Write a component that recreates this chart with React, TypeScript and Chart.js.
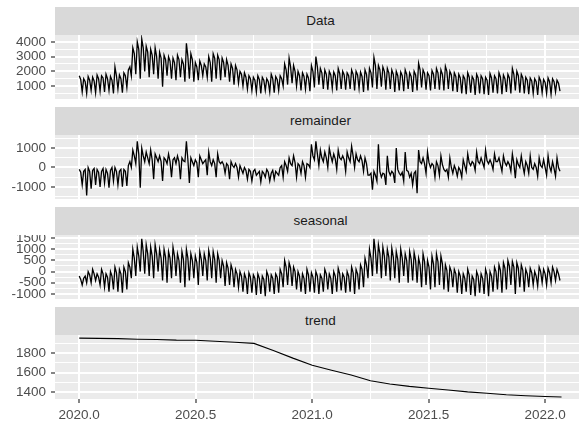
import React, { useEffect, useRef } from 'react';
import { Chart, registerables } from 'chart.js';

Chart.register(...registerables);

// ---- time axis of the decomposed series (three samples per week) ----
const START_YEAR = 2020.0;
const SAMPLE_STEP = 7 / 3 / 365.25;

// ---- series values, one row = five weeks ----
const dataValues = [
  1700, 1450, 600, 1500, 1300, 500, 1650, 1400, 700, 1600, 1350, 550, 1750, 1500, 650,
  1700, 1550, 600, 1800, 1500, 700, 1650, 1400, 500, 2300, 1700, 800, 1750, 1500, 550,
  1900, 1700, 900, 2100, 2300, 1700, 3600, 3200, 1800, 4000, 3500, 1500, 4200, 3600, 2000,
  3700, 3300, 1600, 3500, 3100, 1800, 3600, 3000, 1500, 3300, 2900, 950, 3100, 2800, 1700,
  3000, 2700, 1500, 2900, 2600, 1400, 3100, 2800, 1600, 2800, 2500, 1300, 3900, 3000, 1500,
  3200, 2800, 1300, 2600, 2300, 1400, 2700, 2400, 1700, 2500, 2300, 1600, 3000, 2600, 1300,
  3200, 2900, 1500, 3100, 2800, 1400, 2900, 2600, 1600, 2800, 2400, 1300, 2500, 2200, 1100,
  2400, 2100, 1200, 2000, 1800, 1000, 1900, 1600, 800, 1700, 1500, 700, 1600, 1400, 600,
  1700, 1450, 500, 1600, 1400, 700, 1500, 1300, 600, 1800, 1500, 550, 1650, 1450, 700,
  1700, 1500, 1000, 2500, 2100, 1100, 2900, 2300, 1200, 2400, 2000, 1000, 2000, 1700, 700,
  1900, 1650, 800, 1800, 1550, 650, 2400, 2000, 900, 3000, 2300, 1100, 2200, 1900, 800,
  2100, 1800, 750, 2000, 1750, 850, 1950, 1700, 700, 2200, 1850, 800, 2000, 1750, 750,
  1900, 1700, 800, 2100, 1800, 700, 2000, 1750, 850, 1950, 1650, 600, 2100, 1800, 700,
  2200, 1900, 900, 2950, 2400, 800, 2400, 2100, 950, 2300, 2000, 750, 2200, 1900, 800,
  2100, 1800, 600, 2000, 1700, 700, 1950, 1700, 650, 2100, 1800, 800, 1900, 1650, 600,
  2000, 1750, 700, 2550, 2100, 900, 2100, 1850, 750, 1900, 1700, 700, 2050, 1800, 800,
  2200, 1900, 750, 2100, 1800, 700, 2350, 2000, 800, 2000, 1750, 650, 1900, 1650, 600,
  1800, 1550, 500, 1700, 1500, 450, 1900, 1600, 550, 1650, 1450, 400, 1800, 1550, 500,
  1700, 1500, 450, 1600, 1400, 400, 1850, 1550, 550, 1700, 1500, 500, 1900, 1600, 450,
  1750, 1500, 600, 1800, 1550, 500, 2200, 1800, 700, 2000, 1700, 550, 1800, 1550, 500,
  1600, 1400, 450, 1550, 1350, 500, 1500, 1300, 400, 1600, 1350, 550,
  1450, 1250, 500, 1550, 1300, 450, 1500, 1300, 600, 1400, 1200, 650,
];

const remainderValues = [
  -100, -250, -900, -200, -100, -1450, 0, -200, -1100, -150, -50, -900, -100, -250, -1000,
  -200, -50, -800, -100, -300, -1050, -150, 0, -700, 0, -200, -900, -200, -100, -1000,
  -100, -200, -950, 100, 300, 0, 900, 600, 200, 1350, 700, -1050, 1000, 600, 300,
  800, 500, 200, 900, 400, -600, 700, 500, 300, 600, 300, -700, 500, 400, 200,
  700, 300, -500, 400, 500, 200, 600, 300, -600, 500, 350, 300, 1350, 400, -800,
  500, 300, 100, 400, 250, -500, 600, 400, 200, 300, 400, -400, 800, 300, 100,
  400, 200, -500, 700, 300, 200, 300, 150, -300, 200, 100, -600, 300, 100, 0,
  200, 0, -500, 100, -100, -300, 0, -150, -600, -100, -200, -700, -200, -100, -400,
  -300, -200, -750, -200, -300, -500, -100, -250, -700, -300, -150, -600, -200, -300, -400,
  0, 100, -500, 300, 100, -200, 500, 200, 100, 600, 250, -500, 200, 100, -300,
  300, 100, -500, 200, 150, 0, 1200, 600, 400, 1350, 700, 100, 900, 500, 300,
  800, 500, 0, 1000, 600, 300, 700, 450, -100, 900, 500, 400, 600, 400, -200,
  800, 500, 300, 1100, 600, 0, 700, 400, 300, 600, 350, -200, 500, 200, -400,
  -400, -300, -1150, -200, -400, -700, 1200, -200, -500, -300, -350, -900, 600, -200, -400,
  -200, -300, -800, 1000, -100, -300, -400, -250, -700, 800, -150, -200, -500, -300, -900,
  -300, -200, -1330, 900, 300, 200, 500, 200, -300, 800, 250, 0, 200, 100, -500,
  300, 100, -400, 600, 150, -100, -200, -100, -500, 500, 0, -300, 100, -100, -450,
  0, -150, -500, 400, 100, -200, 700, 250, 100, 300, 200, -150, 800, 300, 200,
  500, 250, 0, 900, 350, 200, 400, 200, -100, 700, 300, 300, 500, 150, -200,
  600, 250, 100, 300, 150, -200, 700, 200, -550, 400, 150, 0, 600, 100, -300,
  300, 100, -300, 600, 0, -100, 200, 0, -450, 500, 100, 0,
  400, 0, -400, 600, 50, -200, 300, -50, -450, 500, 0, -200,
];

const seasonalValues = [
  -200, -350, -600, -300, -200, -500, 0, -150, -500, 100, -100, -400, -100, -250, -600,
  100, -100, -700, -100, -250, -900, 0, -200, -800, 200, -50, -900, 100, -100, -950,
  200, 0, -800, 400, 200, -300, 1000, 600, -200, 1100, 700, 0, 1470, 900, -100,
  1200, 800, -200, 1100, 700, -300, 1200, 800, 0, 1000, 600, -400, 1000, 650, -500,
  900, 600, -300, 1100, 700, -200, 800, 500, -500, 900, 550, -700, 1000, 600, -400,
  800, 500, -300, 700, 400, -600, 900, 550, -200, 800, 500, -400, 950, 600, -300,
  900, 550, -500, 800, 500, -300, 500, 250, -650, 400, 150, -600, 300, 50, -700,
  100, -100, -700, 0, -200, -900, -100, -300, -1000, -50, -250, -950, -150, -300, -1050,
  -100, -300, -1000, -200, -350, -1100, 0, -200, -900, -150, -300, -1000, -100, -250, -950,
  100, -100, -700, 500, 200, -600, 400, 150, -650, 200, 0, -800, 0, -200, -900,
  -100, -300, -1000, 100, -150, -900, -50, -250, -950, 0, -200, -1000, -150, -300, -900,
  100, -100, -800, -100, -300, -1000, 0, -200, -900, 150, -100, -850, -100, -250, -950,
  0, -200, -900, 200, -50, -1000, 100, -100, -800, 300, 100, -700, 600, 300, -300,
  1000, 600, -200, 1470, 900, -100, 1200, 800, -300, 1100, 700, -200, 1000, 650, -400,
  1050, 650, -300, 900, 550, -500, 1000, 600, -200, 800, 500, -500, 900, 550, -400,
  850, 500, -500, 600, 300, -700, 800, 450, -600, 500, 200, -800, 700, 350, -700,
  800, 450, -600, 700, 350, -800, 300, 50, -900, 200, 0, -700, 100, -100, -950,
  0, -200, -1000, -100, -300, -900, 100, -150, -1050, -200, -350, -1100, 0, -200, -950,
  -100, -300, -1000, 100, -150, -1100, 0, -200, -900, 200, 0, -800, 300, 50, -950,
  400, 150, -800, 500, 250, -600, 450, 200, -1000, 400, 150, -700, 300, 50, -900,
  100, -100, -700, 150, -50, -600, 0, -200, -650, 200, 0, -500,
  100, -100, -600, 150, -50, -500, 200, 0, -400, 100, -100, -400,
];

const trendYears = [
  2020.0, 2020.083, 2020.167, 2020.25, 2020.333, 2020.417, 2020.5, 2020.583, 2020.667,
  2020.75, 2020.833, 2020.917, 2021.0, 2021.083, 2021.167, 2021.25, 2021.333, 2021.417,
  2021.5, 2021.583, 2021.667, 2021.75, 2021.833, 2021.917, 2022.0, 2022.07,
];
const trendValues = [
  1958, 1955, 1952, 1946, 1944, 1937, 1935, 1925, 1915,
  1903, 1830, 1750, 1677, 1625, 1575, 1516, 1482, 1457,
  1438, 1420, 1400, 1385, 1370, 1360, 1352, 1347,
];

// ---- tick labels ----
const xTickValues = [2020.0, 2020.25, 2020.5, 2020.75, 2021.0, 2021.25, 2021.5, 2021.75, 2022.0];
const xTickLabels = ['2020.0', '', '2020.5', '', '2021.0', '', '2021.5', '', '2022.0'];

const dataTicks = [500, 1000, 1500, 2000, 2500, 3000, 3500, 4000];
const dataTickLabels = ['', '1000', '', '2000', '', '3000', '', '4000'];
const remainderTicks = [-1500, -1000, -500, 0, 500, 1000, 1500];
const remainderTickLabels = ['', '-1000', '', '0', '', '1000', ''];
const seasonalTicks = [-1000, -750, -500, -250, 0, 250, 500, 750, 1000, 1250, 1500];
const seasonalTickLabels = ['-1000', '', '-500', '', '0', '', '500', '', '1000', '', '1500'];
const trendTicks = [1400, 1500, 1600, 1700, 1800, 1900];
const trendTickLabels = ['1400', '', '1600', '', '1800', ''];

// ---- layout / style ----
const W = 579;
const H = 422;
const PANEL_LEFT = 55;
const X_MIN = 2019.896;
const X_MAX = 2022.145;
const STRIP_H = 28;
const PANEL_H = 64;
const X_AXIS_H = 23;
const FONT = '"Liberation Sans", Arial, Helvetica, sans-serif';
const FONT_SIZE = 13.5;

type PanelDef = {
  title: string;
  top: number;
  xs: number[];
  ys: number[];
  yMin: number;
  yMax: number;
  yTicks: number[];
  yLabels: string[];
  showX: boolean;
  lineWidth: number;
};

const sampleYears = dataValues.map((_, i) => START_YEAR + i * SAMPLE_STEP);

const panels: PanelDef[] = [
  { title: 'Data', top: 35, xs: sampleYears, ys: dataValues, yMin: 120, yMax: 4470, yTicks: dataTicks, yLabels: dataTickLabels, showX: false, lineWidth: 1.3 },
  { title: 'remainder', top: 135, xs: sampleYears, ys: remainderValues, yMin: -1630, yMax: 1680, yTicks: remainderTicks, yLabels: remainderTickLabels, showX: false, lineWidth: 1.3 },
  { title: 'seasonal', top: 235, xs: sampleYears, ys: seasonalValues, yMin: -1230, yMax: 1640, yTicks: seasonalTicks, yLabels: seasonalTickLabels, showX: false, lineWidth: 1.3 },
  { title: 'trend', top: 335, xs: trendYears, ys: trendValues, yMin: 1326, yMax: 1990, yTicks: trendTicks, yLabels: trendTickLabels, showX: true, lineWidth: 1.1 },
];

function labelFor(values: number[], labels: string[], v: number): string {
  const idx = values.findIndex((t) => Math.abs(t - v) < 1e-6);
  return idx >= 0 ? labels[idx] : '';
}

const bgPlugin = {
  id: 'panelBg',
  beforeDraw(chart: any) {
    const { ctx, chartArea: a } = chart;
    ctx.save();
    ctx.fillStyle = '#EBEBEB';
    ctx.fillRect(a.left, a.top, a.right - a.left, a.bottom - a.top);
    ctx.restore();
  },
};

function Panel({ def }: { def: PanelDef }) {
  const ref = useRef<HTMLCanvasElement>(null);
  const height = PANEL_H + (def.showX ? X_AXIS_H : 0);

  useEffect(() => {
    const canvas = ref.current;
    if (!canvas) return;
    const isMajorX = (v: number) => labelFor(xTickValues, xTickLabels, v) !== '';
    const isMajorY = (v: number) => labelFor(def.yTicks, def.yLabels, v) !== '';
    const chart = new Chart(canvas, {
      type: 'line',
      data: {
        datasets: [
          {
            data: def.xs.map((x, i) => ({ x, y: def.ys[i] })),
            borderColor: '#000000',
            borderWidth: def.lineWidth,
            pointRadius: 0,
            tension: 0,
            fill: false,
          },
        ],
      },
      options: {
        animation: false,
        responsive: false,
        events: [],
        layout: { padding: 0 },
        plugins: {
          legend: { display: false },
          tooltip: { enabled: false },
          title: { display: false },
        },
        scales: {
          x: {
            type: 'linear',
            min: X_MIN,
            max: X_MAX,
            afterBuildTicks: (s: any) => {
              s.ticks = xTickValues.map((v) => ({ value: v }));
            },
            afterFit: (s: any) => {
              s.height = def.showX ? X_AXIS_H : 0;
              s.paddingLeft = 0;
              s.paddingRight = 0;
            },
            border: { display: false },
            grid: {
              color: '#FFFFFF',
              lineWidth: (c: any) => (c.tick && isMajorX(c.tick.value) ? 2 : 1),
              drawTicks: def.showX,
              tickLength: 4,
              tickWidth: 1.2,
              tickColor: (c: any) => (c.tick && isMajorX(c.tick.value) ? '#333333' : 'rgba(0,0,0,0)'),
            },
            ticks: {
              display: def.showX,
              autoSkip: false,
              maxRotation: 0,
              padding: 4,
              color: '#4D4D4D',
              font: { family: FONT, size: FONT_SIZE },
              callback: (v: any) => labelFor(xTickValues, xTickLabels, Number(v)),
            },
          },
          y: {
            type: 'linear',
            min: def.yMin,
            max: def.yMax,
            afterBuildTicks: (s: any) => {
              s.ticks = def.yTicks.map((v) => ({ value: v }));
            },
            afterFit: (s: any) => {
              s.width = PANEL_LEFT;
              s.paddingTop = 0;
              s.paddingBottom = 0;
            },
            border: { display: false },
            grid: {
              color: '#FFFFFF',
              lineWidth: (c: any) => (c.tick && isMajorY(c.tick.value) ? 2 : 1),
              drawTicks: true,
              tickLength: 4,
              tickWidth: 1.2,
              tickColor: (c: any) => (c.tick && isMajorY(c.tick.value) ? '#333333' : 'rgba(0,0,0,0)'),
            },
            ticks: {
              autoSkip: false,
              padding: 5,
              color: '#4D4D4D',
              font: { family: FONT, size: FONT_SIZE },
              callback: (v: any) => labelFor(def.yTicks, def.yLabels, Number(v)),
            },
          },
        },
      },
      plugins: [bgPlugin],
    } as any);
    return () => chart.destroy();
  }, [def]);

  return (
    <>
      <div
        style={{
          position: 'absolute',
          left: PANEL_LEFT,
          top: def.top - STRIP_H,
          width: 531,
          height: STRIP_H,
          background: '#D9D9D9',
          color: '#1A1A1A',
          fontFamily: FONT,
          fontSize: FONT_SIZE,
          lineHeight: `${STRIP_H}px`,
          textAlign: 'center',
        }}
      >
        {def.title}
      </div>
      <canvas
        ref={ref}
        width={W}
        height={height}
        style={{ position: 'absolute', left: 0, top: def.top, width: W, height, display: 'block' }}
      />
    </>
  );
}

export default function App() {
  return (
    <div
      style={{
        position: 'fixed',
        left: 0,
        top: 0,
        width: W,
        height: H,
        background: '#FFFFFF',
        overflow: 'hidden',
      }}
    >
      {panels.map((p) => (
        <Panel key={p.title} def={p} />
      ))}
    </div>
  );
}
